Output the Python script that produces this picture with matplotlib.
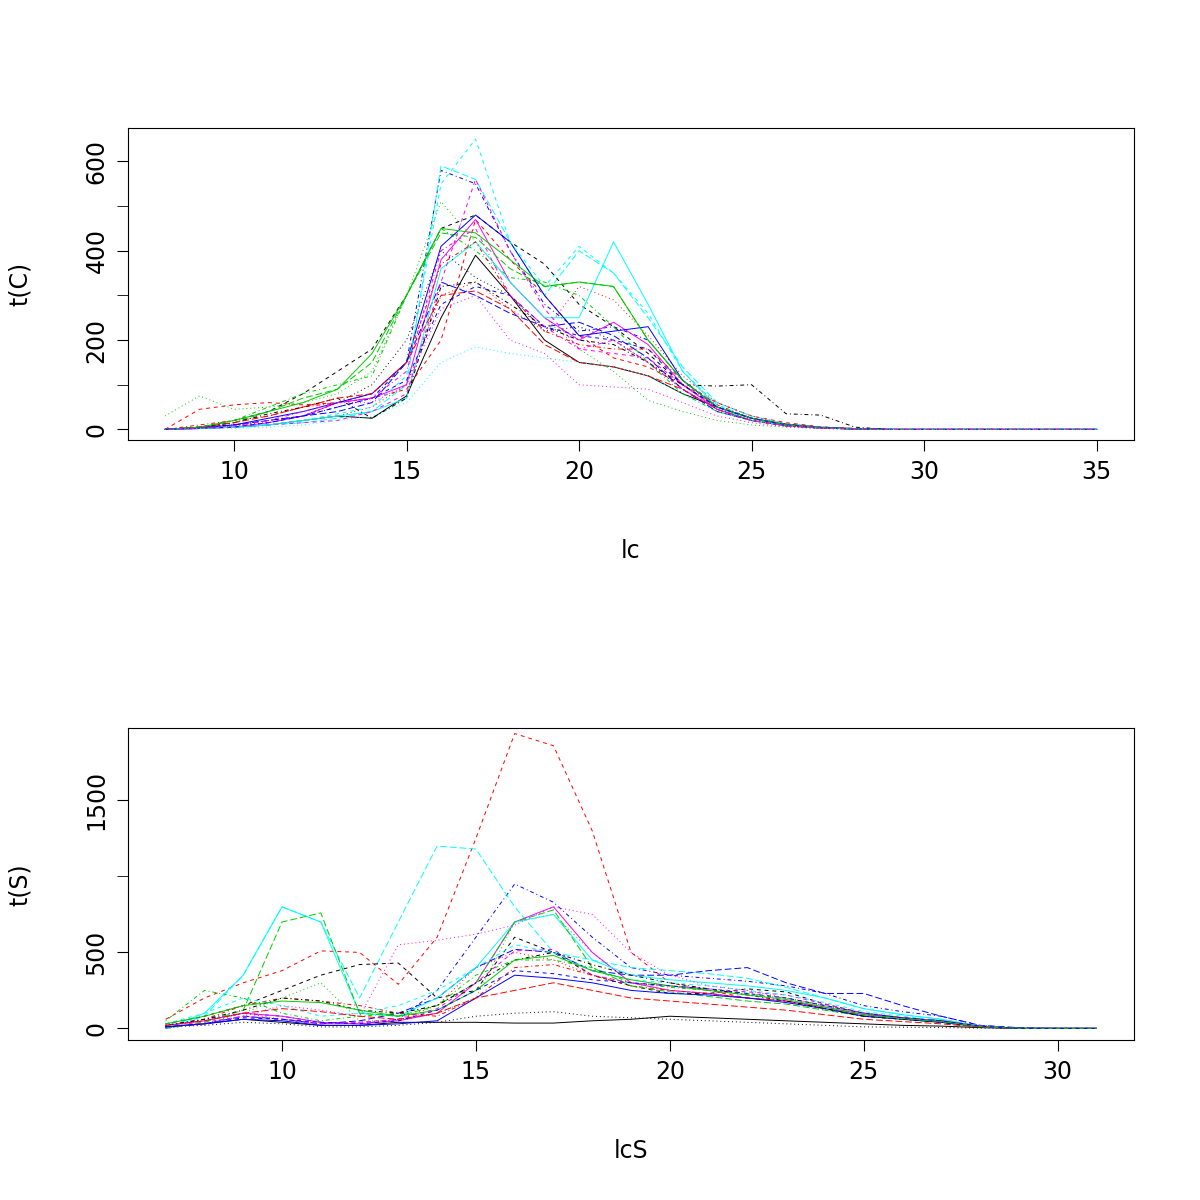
import matplotlib
matplotlib.use('Agg')
import matplotlib.pyplot as plt

# top panel: length classes 8..35
lc = list(range(8, 36))
tail_c = [0] * 7  # classes 29..35 are empty
catch = [
    [0,2,5,10,20,30,25,75,250,390,300,200,150,140,120,80,50,25,12,5,2],
    [0,45,55,60,55,60,70,90,200,470,380,300,210,160,140,100,60,30,15,6,2],
    [30,75,45,50,60,80,130,300,510,420,330,250,180,130,65,40,20,10,5,2,0],
    [0,5,10,20,30,50,70,150,580,550,400,280,220,230,200,110,50,25,10,5,1],
    [0,3,5,10,15,25,40,100,590,560,420,300,400,350,250,140,60,30,12,5,1],
    [0,2,5,15,30,60,70,100,380,470,330,250,200,240,190,100,45,20,8,3,1],
    [0,5,20,40,80,130,180,300,450,480,420,370,280,230,170,100,50,25,10,4,1],
    [0,3,5,10,20,30,50,100,300,330,270,220,320,290,210,120,60,30,12,5,1],
    [0,5,20,50,80,100,120,300,450,400,340,330,300,230,150,80,40,20,8,3,1],
    [0,5,10,20,30,40,60,150,330,300,260,230,240,210,160,90,40,20,8,3,1],
    [0,2,5,10,20,30,40,70,360,420,330,250,250,420,280,130,50,20,8,3,1],
    [0,2,5,10,15,20,40,80,330,560,400,270,180,170,160,100,50,25,10,4,1],
    [0,5,10,15,30,60,100,200,400,340,300,220,230,200,150,90,45,20,8,3,1],
    [0,10,20,30,50,60,80,150,370,420,300,220,190,180,180,110,55,25,10,4,1],
    [0,5,15,40,70,90,150,300,440,430,360,320,330,320,200,110,50,25,10,4,1],
    [0,3,10,25,40,60,80,150,410,480,420,300,210,220,230,110,50,25,10,4,1],
    [0,3,5,10,20,35,50,120,550,650,420,320,410,350,260,130,55,25,10,4,1],
    [0,3,8,15,30,60,60,100,270,300,200,170,100,95,90,60,30,15,6,2,1],
    [0,5,15,35,50,70,25,70,320,330,280,230,200,190,150,100,97,100,35,32,5],
    [0,5,15,30,50,70,80,150,300,310,270,190,150,140,120,90,45,20,8,3,1],
    [0,5,20,40,60,90,170,300,450,440,380,320,330,320,200,110,50,25,10,4,1],
    [0,3,5,15,30,50,70,110,280,320,300,230,210,200,180,100,50,25,10,4,1],
    [0,2,3,5,10,20,30,60,150,185,170,160,150,140,120,80,40,20,8,3,1],
    [0,3,8,20,40,60,70,130,400,450,300,230,180,200,150,90,45,20,8,3,1],
]

# bottom panel: length classes 7..31
lcS = list(range(7, 32))
tail_s = [0] * 2  # classes 30..31
survey = [
    [10,30,60,40,20,20,40,40,40,35,35,50,60,80,70,60,50,40,30,20,15,5,0],
    [60,200,300,380,510,500,290,600,1250,1940,1860,1300,500,300,250,200,180,130,90,70,50,15,0],
    [0,30,100,200,300,50,50,100,200,700,750,500,300,250,220,200,180,120,80,60,40,10,0],
    [20,60,100,80,40,30,60,250,600,950,830,600,400,350,330,310,280,230,150,110,80,20,0],
    [0,80,350,800,700,200,700,1200,1180,800,500,450,400,380,360,330,270,200,130,90,60,15,0],
    [20,50,100,80,40,30,50,100,300,700,800,500,300,250,230,200,180,140,90,70,50,15,0],
    [30,80,150,250,350,420,430,200,250,600,500,350,280,230,230,260,240,160,100,70,50,15,0],
    [20,50,100,60,30,40,60,150,400,500,450,350,300,280,250,220,200,150,100,70,50,15,0],
    [50,250,200,100,50,80,100,150,350,450,450,400,300,270,250,230,200,150,100,70,50,15,0],
    [10,30,80,60,30,50,100,200,400,520,500,380,350,350,380,400,300,230,230,150,80,20,5],
    [0,100,350,800,700,100,80,200,400,700,750,450,350,320,300,280,250,200,130,90,60,15,0],
    [20,40,80,60,30,40,60,130,300,510,520,350,300,280,260,240,220,160,100,70,50,15,0],
    [10,20,40,30,10,10,20,40,80,100,110,80,70,60,50,40,30,20,10,8,5,2,0],
    [20,60,150,200,180,150,100,80,200,400,420,350,280,250,230,200,180,140,90,70,50,15,0],
    [0,40,120,700,760,100,80,150,300,700,780,400,280,240,210,180,160,120,80,60,40,10,0],
    [10,30,60,50,20,20,30,50,200,350,330,300,250,230,220,200,170,130,80,60,40,10,0],
    [30,100,200,150,80,100,150,250,400,550,500,380,320,300,280,250,220,170,110,80,50,15,0],
    [0,30,80,150,120,80,550,580,620,680,800,750,500,350,280,250,200,150,100,70,50,15,0],
    [20,60,120,200,180,120,100,150,300,450,500,420,350,300,260,220,180,130,80,60,40,10,0],
    [20,50,100,130,110,80,60,100,200,250,300,250,200,180,160,140,120,90,60,45,30,8,0],
    [30,80,150,180,170,120,80,120,250,450,480,380,320,280,250,220,190,140,90,65,45,12,0],
    [10,30,70,60,40,30,50,120,250,380,360,320,300,280,260,230,200,150,100,70,50,15,0],
]

# R matplot defaults
colors = ['black', 'red', '#00CD00', 'blue', 'cyan', 'magenta']
dashes = [None, (4, 4), (1, 3), (1, 3, 4, 3), (7, 3)]

plt.rcParams['font.family'] = 'DejaVu Sans'
fig = plt.figure(figsize=(12, 12), dpi=100)


def draw_panel(rect, x, series, tail, xlim, ylim, yticks, xticks, xlabel, ylabel, minor):
    ax = fig.add_axes(rect)
    for i, s in enumerate(series):
        y = s + tail
        line, = ax.plot(x, y, color=colors[i % 6], lw=0.7)
        d = dashes[i % 5]
        if d is not None:
            line.set_dashes(d)
    ax.set_xlim(*xlim)
    ax.set_ylim(*ylim)
    ax.set_xticks(xticks)
    ax.set_yticks(yticks)
    ax.set_yticks(minor, minor=True)
    ax.tick_params(which='both', direction='out', length=8, labelsize=17, pad=6)
    for lab in ax.get_yticklabels():
        lab.set_rotation(90)
        lab.set_va('center')
    for sp in ax.spines.values():
        sp.set_linewidth(0.8)
    ax.set_xlabel(xlabel, fontsize=17, labelpad=40)
    ax.set_ylabel(ylabel, fontsize=17, labelpad=38)
    return ax


draw_panel([0.1067, 0.633, 0.838, 0.26], lc, catch, tail_c, (6.93, 36.07), (-24.6, 674),
           [0, 200, 400, 600], [10, 15, 20, 25, 30, 35], 'lc', 't(C)', [100, 300, 500])
draw_panel([0.1067, 0.133, 0.838, 0.26], lcS, survey, tail_s, (6.03, 31.96), (-79, 1974),
           [0, 500, 1500], [10, 15, 20, 25, 30], 'lcS', 't(S)', [1000])

fig.savefig('out.png', dpi=100)
